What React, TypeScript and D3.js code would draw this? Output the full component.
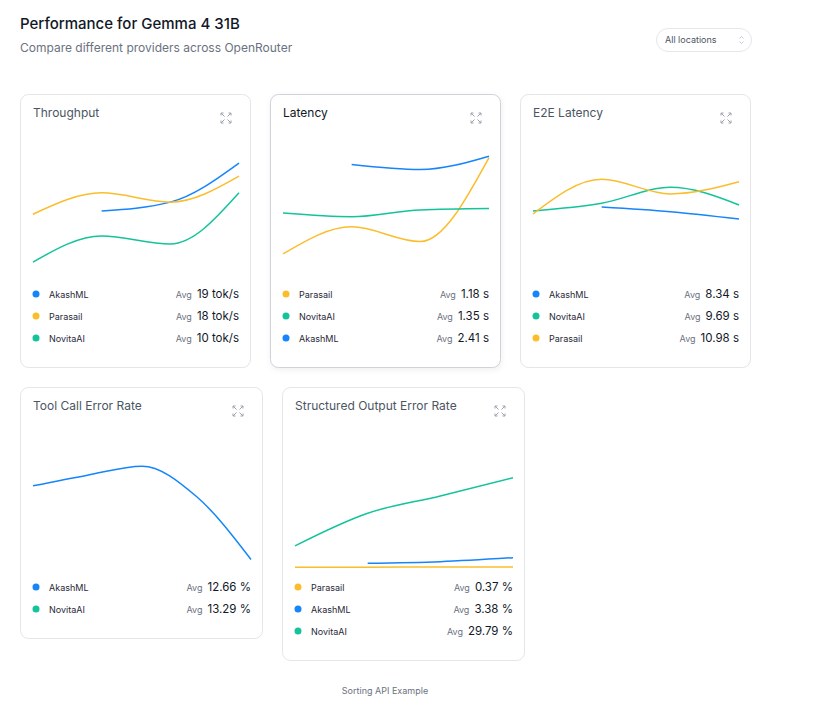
import * as React from 'react';
import * as d3 from 'd3';

const width = 819;
const height = 705;

const colors: Record<string, string> = {
  AkashML: '#1685fb',
  Parasail: '#fbbd2c',
  NovitaAI: '#14c39a',
};

// values, one point per time bucket (null = no data yet)
const throughputAkash = [null, 14.0, 15.9, 24.3];
const throughputParasail = [13.3, 17.9, 15.9, 21.5];
const throughputNovita = [3.0, 8.6, 6.9, 17.9];

const latencyParasail = [0.48, 1.07, 0.75, 2.58];
const latencyNovita = [1.37, 1.29, 1.44, 1.47];
const latencyAkash = [null, 2.43, 2.32, 2.61];

const e2eAkash = [null, 8.95, 8.34, 7.39];
const e2eNovita = [8.43, 9.43, 11.5, 9.21];
const e2eParasail = [8.04, 12.54, 10.64, 12.23];

const toolAkash = [14.8, 16.7, 18.3, 12.9, 1.7];
const toolNovita: (number | null)[] = [];

const structuredParasail = [0.9, 0.9, 1.0, 1.0];
const structuredAkash = [null, 2.9, 3.7, 5.7];
const structuredNovita = [11.6, 28.0, 36.7, 45.9];

type Series = {name: string; avg: string; values: (number | null)[]};
type Card = {title: string; x: number; y: number; w: number; yMax: number; n: number; active?: boolean; series: Series[]};

const cards: Card[] = [
  {title: 'Throughput', x: 20, y: 94, w: 231, yMax: 25.4, n: 4, series: [
    {name: 'AkashML', avg: '19 tok/s', values: throughputAkash},
    {name: 'Parasail', avg: '18 tok/s', values: throughputParasail},
    {name: 'NovitaAI', avg: '10 tok/s', values: throughputNovita},
  ]},
  {title: 'Latency', x: 270, y: 94, w: 231, yMax: 2.57, n: 4, active: true, series: [
    {name: 'Parasail', avg: '1.18 s', values: latencyParasail},
    {name: 'NovitaAI', avg: '1.35 s', values: latencyNovita},
    {name: 'AkashML', avg: '2.41 s', values: latencyAkash},
  ]},
  {title: 'E2E Latency', x: 520, y: 94, w: 231, yMax: 15.3, n: 4, series: [
    {name: 'AkashML', avg: '8.34 s', values: e2eAkash},
    {name: 'NovitaAI', avg: '9.69 s', values: e2eNovita},
    {name: 'Parasail', avg: '10.98 s', values: e2eParasail},
  ]},
  {title: 'Tool Call Error Rate', x: 20, y: 387, w: 243, yMax: 21.0, n: 5, series: [
    {name: 'AkashML', avg: '12.66 %', values: toolAkash},
    {name: 'NovitaAI', avg: '13.29 %', values: toolNovita},
  ]},
  {title: 'Structured Output Error Rate', x: 282, y: 387, w: 243, yMax: 59.3, n: 4, series: [
    {name: 'Parasail', avg: '0.37 %', values: structuredParasail},
    {name: 'AkashML', avg: '3.38 %', values: structuredAkash},
    {name: 'NovitaAI', avg: '29.79 %', values: structuredNovita},
  ]},
];

const ExpandIcon = ({cx, cy}: {cx: number; cy: number}) => {
  const corners = [[-1, -1], [1, -1], [-1, 1], [1, 1]];
  return (
    <g stroke="#9ca3af" strokeWidth={1} fill="none">
      {corners.map(([sx, sy], i) => (
        <g key={i}>
          <line x1={cx + sx * 1.5} y1={cy + sy * 1.5} x2={cx + sx * 5} y2={cy + sy * 5} />
          <polyline points={`${cx + sx * 5},${cy + sy * 2.5} ${cx + sx * 5},${cy + sy * 5} ${cx + sx * 2.5},${cy + sy * 5}`} />
        </g>
      ))}
    </g>
  );
};

const ChartCard = ({card}: {card: Card}) => {
  const cardH = 208 + card.series.length * 22;
  const x = d3.scaleLinear().domain([0, card.n - 1]).range([13, card.w - 12]);
  const y = d3.scaleLinear().domain([0, card.yMax]).range([182, 64]);
  const line = d3.line<number | null>()
    .defined(d => d != null)
    .x((_, i) => x(i))
    .y(d => y(d as number))
    .curve(d3.curveMonotoneX);

  return (
    <g transform={`translate(${card.x},${card.y})`}>
      {card.active && (
        <rect x={0.5} y={2} width={card.w} height={cardH} rx={8} fill="#000" opacity={0.06} filter="url(#blur)" />
      )}
      <rect x={0.5} y={0.5} width={card.w - 1} height={cardH - 1} rx={8} fill="#fff"
        stroke={card.active ? '#cfd3d9' : '#e3e5e8'} />
      <text x={13} y={23} fontSize={12} fill={card.active ? '#111827' : '#4b5563'}>{card.title}</text>
      <ExpandIcon cx={card.w - 25} cy={24} />
      {card.series.map(s => (
        <path key={s.name} d={line(s.values) || ''} fill="none" stroke={colors[s.name]} strokeWidth={1.5} />
      ))}
      {card.series.map((s, i) => (
        <g key={`l-${s.name}`} transform={`translate(0,${200 + i * 22})`}>
          <circle cx={16} cy={0} r={3.5} fill={colors[s.name]} />
          <text x={29} y={3.5} fontSize={9} fill="#1f2937">{s.name}</text>
          <text x={card.w - 12} y={4} textAnchor="end">
            <tspan fontSize={9} fill="#6b7280">Avg</tspan>
            <tspan dx={5} fontSize={11.5} fontWeight={400} fill="#111827">{s.avg}</tspan>
          </text>
        </g>
      ))}
    </g>
  );
};

export default function App() {
  return (
    <svg width={width} height={height} style={{position: 'absolute', left: 0, top: 0, fontFamily: 'Inter, sans-serif'}}>
      <defs>
        <filter id="blur" x="-10%" y="-10%" width="120%" height="120%">
          <feGaussianBlur stdDeviation={3} />
        </filter>
      </defs>
      <rect width={width} height={height} fill="#fff" />
      <text x={20} y={29} fontSize={15} fontWeight={500} fill="#111827">Performance for Gemma 4 31B</text>
      <text x={20} y={52} fontSize={12} fill="#6b7280">Compare different providers across OpenRouter</text>

      <rect x={656.5} y={28.5} width={95} height={23} rx={11.5} fill="#fff" stroke="#e5e7eb" />
      <text x={665} y={43} fontSize={9} fill="#4b5563">All locations</text>
      <g stroke="#b8bcc4" strokeWidth={0.8} fill="none">
        <polyline points="739.5,38.5 741.5,36.5 743.5,38.5" />
        <polyline points="739.5,41.5 741.5,43.5 743.5,41.5" />
      </g>

      {cards.map(c => <ChartCard key={c.title} card={c} />)}

      <text x={385} y={694} fontSize={9} textAnchor="middle" fill="#6b7280">Sorting API Example</text>
    </svg>
  );
}
